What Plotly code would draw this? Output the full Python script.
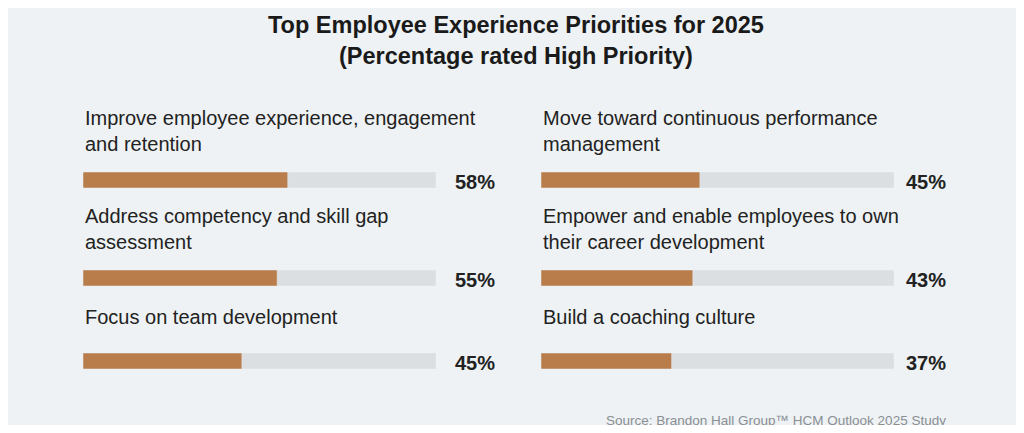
import plotly.graph_objects as go

labels_left = ["Improve employee experience, engagement<br>and retention",
               "Address competency and skill gap<br>assessment",
               "Focus on team development"]
values_left = [58, 55, 45]
labels_right = ["Move toward continuous performance<br>management",
                "Empower and enable employees to own<br>their career development",
                "Build a coaching culture"]
values_right = [45, 43, 37]

OFF = 8  # page body margin
W, H = 1024 - 2 * OFF, 433 - 2 * OFF
bar_rows = [180, 278, 361]
label_tops = [105, 203, 304]
cols = [(83, 436, 497), (541, 894, 948)]

def px(x):
    return (x - OFF) / W

def py(y):
    return 1 - (y - OFF) / H

fig = go.Figure()
annotations = []
idx = 0
for c, (labels, values) in enumerate([(labels_left, values_left), (labels_right, values_right)]):
    x0, x1, xp = cols[c]
    for r in range(3):
        idx += 1
        xa = "x" if idx == 1 else f"x{idx}"
        ya = "y" if idx == 1 else f"y{idx}"
        fig.add_trace(go.Bar(x=[100], y=[0], orientation="h", marker_color="#dcdfe1",
                             width=1, xaxis=xa, yaxis=ya, hoverinfo="skip", showlegend=False))
        fig.add_trace(go.Bar(x=[values[r]], y=[0], orientation="h", marker_color="#b87d4b",
                             width=1, xaxis=xa, yaxis=ya, showlegend=False))
        yc = bar_rows[r]
        sfx = '' if idx == 1 else idx
        fig.layout[f"xaxis{sfx}"] = dict(domain=[px(x0), px(x1)], range=[0, 100],
                                         visible=False, anchor=ya, fixedrange=True)
        fig.layout[f"yaxis{sfx}"] = dict(domain=[py(yc + 8), py(yc - 8)], range=[-0.5, 0.5],
                                         visible=False, anchor=xa, fixedrange=True)
        annotations.append(dict(text=labels[r], x=px(x0), y=py(label_tops[r]), xref="paper", yref="paper",
                                xanchor="left", yanchor="top", align="left", showarrow=False,
                                font=dict(size=20, color="#222222", family="Liberation Sans")))
        annotations.append(dict(text=f"<b>{values[r]}%</b>", x=px(xp), y=py(yc + 2), xref="paper", yref="paper",
                                xanchor="right", yanchor="middle", showarrow=False,
                                font=dict(size=20, color="#222222", family="Liberation Sans")))

annotations.append(dict(text="<b>Top Employee Experience Priorities for 2025<br>(Percentage rated High Priority)</b>",
                        x=px(516), y=py(10), xref="paper", yref="paper", xanchor="center", yanchor="top",
                        showarrow=False, font=dict(size=23.5, color="#1a1a1a", family="Liberation Sans")))
annotations.append(dict(text="Source: Brandon Hall Group™ HCM Outlook 2025 Study", x=px(948), y=py(420),
                        xref="paper", yref="paper", xanchor="right", yanchor="middle", showarrow=False,
                        font=dict(size=13.5, color="#8a8f94", family="Liberation Sans")))

fig.update_layout(width=W, height=H, margin=dict(l=0, r=0, t=0, b=0), barmode="overlay",
                  paper_bgcolor="#eef2f4", plot_bgcolor="rgba(0,0,0,0)", annotations=annotations)
fig.write_html("out.html", config={"displayModeBar": False})
